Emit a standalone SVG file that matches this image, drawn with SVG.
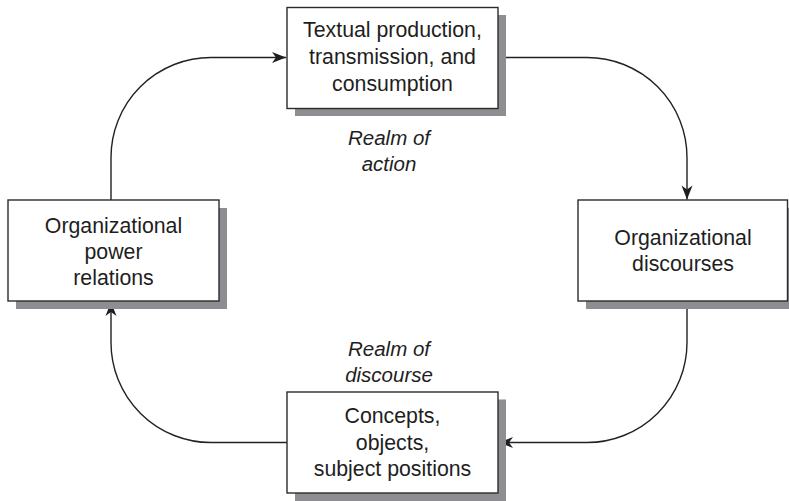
<svg xmlns="http://www.w3.org/2000/svg" width="789" height="501" viewBox="0 0 789 501">
  <style>
    .shadow { fill: #8e8e92; }
    .box { fill: #ffffff; stroke: #2b2b2b; stroke-width: 1.4; }
    .label { font-family: "Liberation Sans", Arial, sans-serif; font-size: 21.3px; fill: #1e1e1e; text-anchor: middle; }
    .realm { font-family: "Liberation Sans", Arial, sans-serif; font-size: 20.5px; font-style: italic; fill: #1e1e1e; text-anchor: middle; }
    .conn { fill: none; stroke: #222222; stroke-width: 1.4; marker-end: url(#arrow); }
  </style>
  <defs>
    <marker id="arrow" markerUnits="userSpaceOnUse" markerWidth="18" markerHeight="14" viewBox="-16 -7 18 14" refX="0" refY="0" orient="auto" overflow="visible">
      <path d="M0,0 L-14,-5.5 L-10,0 L-14,5.5 Z" fill="#1e1e1e"/>
    </marker>
  </defs>

  <rect width="789" height="501" fill="#ffffff"/>

  <!-- connectors -->
  <g id="connectors">
    <path class="conn" d="M111,200 V157.5 A100,100 0 0 1 211,57.5 H286"/>
    <path class="conn" d="M498,57.5 H587 A100,100 0 0 1 687,157.5 V199.5"/>
    <path class="conn" d="M687,301 V342.5 A100,100 0 0 1 587,442.5 H499"/>
    <path class="conn" d="M287,442.5 H211 A100,100 0 0 1 111,342.5 V302"/>
  </g>

  <!-- top: textual production -->
  <g id="textual-production">
    <rect class="shadow" x="295" y="15" width="211" height="101"/>
    <rect class="box" x="287" y="7.5" width="211" height="101"/>
    <text class="label" x="392.5" y="37">Textual production,</text>
    <text class="label" x="392.5" y="64">transmission, and</text>
    <text class="label" x="392.5" y="90.5">consumption</text>
  </g>

  <!-- right: organizational discourses -->
  <g id="organizational-discourses">
    <rect class="shadow" x="586" y="208" width="210" height="101"/>
    <rect class="box" x="578" y="200" width="209.5" height="101"/>
    <text class="label" x="683" y="244.5">Organizational</text>
    <text class="label" x="683" y="271">discourses</text>
  </g>

  <!-- bottom: concepts, objects, subject positions -->
  <g id="concepts-objects">
    <rect class="shadow" x="295" y="399.5" width="211" height="101.5"/>
    <rect class="box" x="287" y="392" width="211" height="101"/>
    <text class="label" x="392.5" y="423">Concepts,</text>
    <text class="label" x="392.5" y="449.5">objects,</text>
    <text class="label" x="392.5" y="476">subject positions</text>
  </g>

  <!-- left: organizational power relations -->
  <g id="power-relations">
    <rect class="shadow" x="16" y="208" width="211" height="101"/>
    <rect class="box" x="8" y="200" width="211" height="101"/>
    <text class="label" x="113.5" y="232.5">Organizational</text>
    <text class="label" x="113.5" y="258.5">power</text>
    <text class="label" x="113.5" y="284.5">relations</text>
  </g>

  <!-- realm labels -->
  <g id="realm-of-action">
    <text class="realm" x="389" y="144.5">Realm of</text>
    <text class="realm" x="389" y="171">action</text>
  </g>
  <g id="realm-of-discourse">
    <text class="realm" x="389" y="356">Realm of</text>
    <text class="realm" x="389" y="381.5">discourse</text>
  </g>
</svg>
